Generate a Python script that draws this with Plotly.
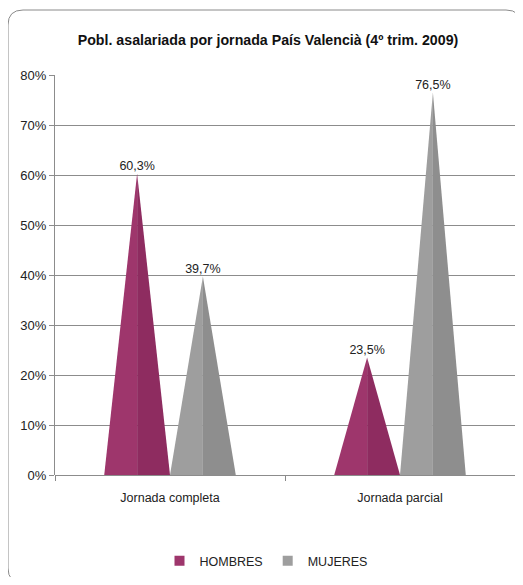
import plotly.graph_objects as go

categories = ["Jornada completa", "Jornada parcial"]
series_names = ["HOMBRES", "MUJERES"]
hombres = [60.3, 23.5]
mujeres = [39.7, 76.5]
labels_h = ["60,3%", "23,5%"]
labels_m = ["39,7%", "76,5%"]
y_ticks = [0, 10, 20, 30, 40, 50, 60, 70, 80]
y_ticktext = [f"{v}%" for v in y_ticks]

FONT = "Liberation Sans, Arial, sans-serif"
colors_light = ["#9E366C", "#9E9E9E"]
colors_dark = ["#8E2C60", "#8E8E8E"]
offsets = [-0.143, 0.143]
half_w = 0.143

fig = go.Figure()
all_series = [(hombres, labels_h), (mujeres, labels_m)]
for s, (vals, labs) in enumerate(all_series):
    for i, v in enumerate(vals):
        c = i + offsets[s]
        fig.add_trace(go.Scatter(
            x=[c - half_w, c, c, c - half_w], y=[0, v, 0, 0],
            fill="toself", mode="lines", line=dict(width=0),
            fillcolor=colors_light[s], showlegend=False, hoverinfo="skip"))
        fig.add_trace(go.Scatter(
            x=[c, c + half_w, c, c], y=[0, 0, v, 0],
            fill="toself", mode="lines", line=dict(width=0),
            fillcolor=colors_dark[s], showlegend=False, hoverinfo="skip"))
    fig.add_trace(go.Scatter(
        x=[i + offsets[s] for i in range(len(vals))], y=vals,
        mode="text", text=labs, textposition="top center",
        textfont=dict(family=FONT, size=12.5, color="#222"),
        showlegend=False, hoverinfo="skip"))
    fig.add_trace(go.Scatter(
        x=[None], y=[None], mode="markers", name=series_names[s],
        marker=dict(symbol="square", size=10, color=colors_light[s])))

# rounded frame (page pixel coords converted to paper coords)
x0, x1 = (8 - 55) / 460, (521 - 55) / 460
y1, y0 = (475 - 10) / 400, (475 - 583) / 400
rx, ry = 15 / 460, 15 / 400
path = (f"M {x0+rx},{y1} L {x1-rx},{y1} Q {x1},{y1} {x1},{y1-ry} "
        f"L {x1},{y0+ry} Q {x1},{y0} {x1-rx},{y0} L {x0+rx},{y0} "
        f"Q {x0},{y0} {x0},{y0+ry} L {x0},{y1-ry} Q {x0},{y1} {x0+rx},{y1} Z")
fig.add_shape(type="path", path=path, xref="paper", yref="paper",
              line=dict(color="#8a8a8a", width=1), layer="below")

fig.update_layout(
    width=507, height=569,
    margin=dict(l=47, r=0, t=67, b=102),
    paper_bgcolor="white", plot_bgcolor="white",
    title=dict(text="<b>Pobl. asalariada por jornada País Valencià (4º trim. 2009)</b>",
               x=(268 - 55) / 460, xref="paper", xanchor="center",
               y=1 - 32 / 569, yanchor="middle",
               font=dict(family=FONT, size=14.2, color="#111")),
    font=dict(family=FONT, size=13, color="#222"),
    xaxis=dict(range=[-0.5, 1.5], tickvals=[0, 1], ticktext=categories,
               showgrid=False, zeroline=False, ticks="", showline=False,
               ticklabelstandoff=13,
               tickfont=dict(family=FONT, size=12.5, color="#222"),
               minor=dict(tickvals=[-0.5, 0.5, 1.5], ticks="outside", ticklen=5,
                          tickcolor="#888", showgrid=False)),
    yaxis=dict(range=[0, 80], tickvals=y_ticks, ticktext=y_ticktext,
               showgrid=True, gridcolor="#8c8c8c", gridwidth=1,
               zeroline=True, zerolinecolor="#8c8c8c", zerolinewidth=1,
               showline=True, linecolor="#8c8c8c", ticks="outside", ticklen=5,
               tickcolor="#8c8c8c",
               tickfont=dict(family=FONT, size=13, color="#222")),
    legend=dict(orientation="h", x=(266 - 55) / 460, xanchor="center",
                y=-0.215, yanchor="middle",
                font=dict(family=FONT, size=12.5, color="#222"),
                itemwidth=30, tracegroupgap=0),
)

fig.write_html("out.html")
